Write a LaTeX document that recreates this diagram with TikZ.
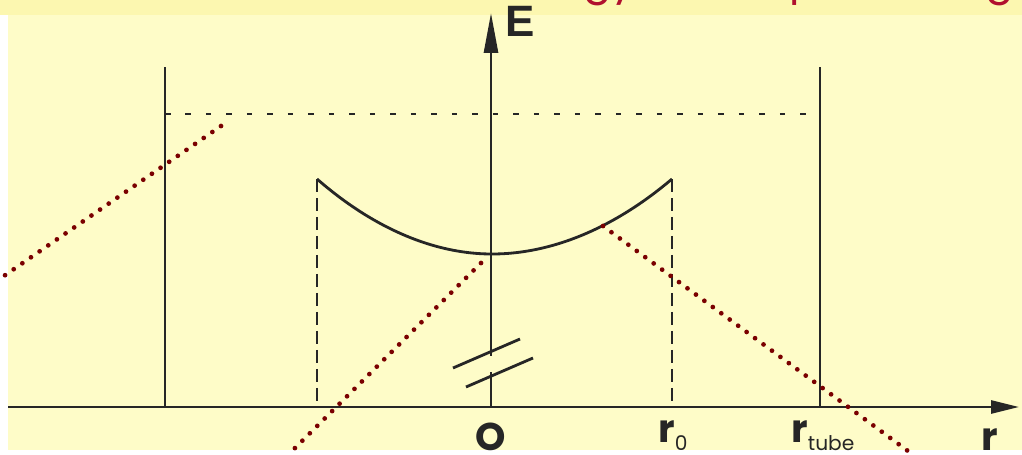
\documentclass[tikz,border=0pt]{standalone}
\usepackage{fontspec}
\setmainfont{Liberation Sans}
\newfontfamily\lblfont{Poppins}
\newcommand\subfnt{\lblfont\fontsize{11.5}{11.5}\selectfont\mdseries}
\usetikzlibrary{arrows.meta}
\definecolor{bg}{HTML}{FEFCC8}
\definecolor{bgtop}{HTML}{FCF7B0}
\definecolor{ink}{HTML}{262626}
\definecolor{dotred}{HTML}{7A0000}
\definecolor{titlered}{HTML}{B0102E}
\begin{document}
\begin{tikzpicture}[x=0.02cm,y=-0.02cm,
  solidline/.style={ink, line width=1.6pt},
  vdash/.style={ink, line width=1.6pt, dash pattern=on 0.26cm off 0.12cm},
  hdash/.style={ink, line width=1.6pt, dash pattern=on 0.11cm off 0.30cm},
  reddots/.style={dotred, line width=2.7pt, line cap=round, dash pattern=on 0pt off 0.21cm},
  biglabel/.style={inner sep=0pt, font=\lblfont\fontsize{22}{22}\selectfont\bfseries, text=ink},
  titlebit/.style={inner sep=0pt, anchor=base west, text=titlered, font=\lblfont\fontsize{24}{24}\selectfont}]
\useasboundingbox (0,0) rectangle (1022,454);
\fill[white] (0,0) rectangle (1022,454);
\fill[bg] (8,0) rectangle (1022,450);
\fill[bgtop] (0,0) rectangle (1022,15);
% clipped title fragments (only their lowest parts show)
\begin{scope}
\clip (0,0) rectangle (1022,15);
\node[titlebit] (t1) at (583,-6) {gy};
\node[titlebit] (t2) at (789,-6) {p};
\node[titlebit] (t3) at (985,-6) {g};
\end{scope}
% key points
\coordinate (Oo) at (491,407);
\coordinate (Etop) at (491,13);
\coordinate (rleft) at (8,407);
\coordinate (rtip) at (1019,407);
\coordinate (LWt) at (165,67);
\coordinate (LWb) at (165,407);
\coordinate (RWt) at (820,67);
\coordinate (RWb) at (820,407);
\coordinate (LD) at (165,114);
\coordinate (RD) at (820,114);
\coordinate (PL) at (317,179);
\coordinate (PM) at (492,254);
\coordinate (PR) at (672,179);
\coordinate (PLb) at (317,407);
\coordinate (PRb) at (672,407);
% axes
\draw[solidline, -{Triangle[length=0.56cm,width=0.26cm]}] (rleft) -- (rtip);
\draw[solidline, -{Triangle[length=0.8cm,width=0.28cm]}] (Oo) -- (Etop);
% axis break
\draw[bg, line width=2.8pt] (491,356) -- (491,372);
\coordinate (b1a) at (453,368); \coordinate (b1b) at (520,339);
\coordinate (b2a) at (466,387); \coordinate (b2b) at (533,358);
\draw[solidline] (b1a) -- (b1b);
\draw[solidline] (b2a) -- (b2b);
% walls
\draw[solidline] (LWt) -- (LWb);
\draw[solidline] (RWt) -- (RWb);
\draw[hdash] (LD) -- (RD);
% parabola
\draw[solidline] (PL) parabola bend (PM) (PR);
\draw[vdash] (PL) -- (PLb);
\draw[vdash] (PR) -- (PRb);
% red dotted lines
\coordinate (d1a) at (1,278); \coordinate (d1b) at (221,126);
\coordinate (d2a) at (290,453); \coordinate (d2b) at (481,263);
\coordinate (d3a) at (603,226); \coordinate (d3b) at (912,454);
\draw[reddots] (d1b) -- (d1a);
\draw[reddots] (d2b) -- (d2a);
\draw[reddots] (d3a) -- (d3b);
% labels
\node[biglabel, anchor=base west, font=\fontsize{25}{25}\selectfont\bfseries] (Elab) at (505,36) {E};
\node[biglabel, anchor=base] (Olab) at (491,450) {O};
\node[biglabel, anchor=base west] (r0lab) at (658,442) {r\raisebox{-5pt}{\subfnt 0}};
\node[biglabel, anchor=base west] (rtlab) at (791,442) {r\raisebox{-5pt}{\subfnt tube}};
\node[biglabel, anchor=base west] (rlab) at (981,450) {r};
\end{tikzpicture}
\end{document}
